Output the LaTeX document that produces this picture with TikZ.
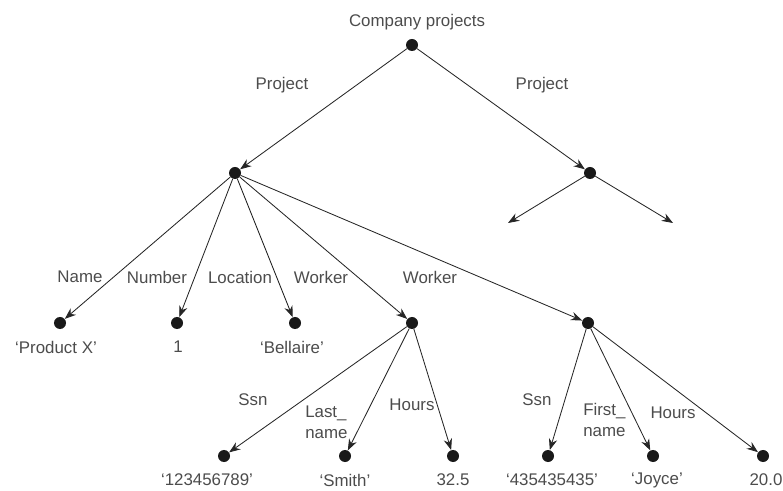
\documentclass[tikz,border=0pt]{standalone}
\usepackage{fontspec}
\setmainfont{Liberation Sans}
\usepackage{xcolor}
\usetikzlibrary{arrows.meta}

\begin{document}
\begin{tikzpicture}[x=0.025cm, y=-0.025cm,
    dot/.style={circle, fill=black!90, inner sep=0pt, minimum size=0.3cm},
    txt/.style={text=black!70, inner sep=0pt, font=\fontsize{12}{15}\selectfont},
    edge/.style={draw=black!85, line width=0.6pt, -{Stealth[length=8pt, width=6pt]}}]
    \useasboundingbox (0,0) rectangle (783,491);

    % Raiz
    \node[dot] (root) at (412,45) {};
    \node[txt] (rootlbl) at (417,22) {Company projects};

    % Proyectos
    \node[dot] (proj1) at (235,173) {};
    \node[dot] (proj2) at (590,173) {};
    \node[txt] (pl1) at (282,85) {Project};
    \node[txt] (pl2) at (542,85) {Project};
    \draw[edge] (root) -- (proj1);
    \draw[edge] (root) -- (proj2);

    % Ramas sin hijos
    \coordinate (open1) at (508,223);
    \coordinate (open2) at (673,223);
    \draw[edge] (proj2) -- (open1);
    \draw[edge] (proj2) -- (open2);

    % Atributos del proyecto
    \node[dot] (name) at (60,323) {};
    \node[dot] (number) at (177,323) {};
    \node[dot] (loc) at (295,323) {};
    \node[dot] (work1) at (412,323) {};
    \node[dot] (work2) at (588,323) {};
    \foreach \n in {name, number, loc, work1, work2}
        \draw[edge] (proj1) -- (\n);

    \node[txt] (namelbl) at (80,277) {Name};
    \node[txt] (numberlbl) at (157,277) {Number};
    \node[txt] (loclbl) at (240,277) {Location};
    \node[txt] (w1lbl) at (321,277) {Worker};
    \node[txt] (w2lbl) at (430,277) {Worker};

    \node[txt] (nameval) at (56,347) {`Product X'};
    \node[txt] (numberval) at (178,347) {1};
    \node[txt] (locval) at (292,347) {`Bellaire'};

    % Primer trabajador
    \node[dot] (ssn1) at (224,456) {};
    \node[dot] (last) at (345,456) {};
    \node[dot] (hrs1) at (453,456) {};
    \foreach \n in {ssn1, last, hrs1}
        \draw[edge] (work1) -- (\n);

    \node[txt] (ssn1lbl) at (253,400) {Ssn};
    \node[txt, align=left, anchor=west] (lastlbl) at (305,422) {Last\_\\name};
    \node[txt] (hrs1lbl) at (412,405) {Hours};

    \node[txt] (ssn1val) at (207,480) {`123456789'};
    \node[txt] (lastval) at (345,480) {`Smith'};
    \node[txt] (hrs1val) at (453,480) {32.5};

    % Segundo trabajador
    \node[dot] (ssn2) at (548,456) {};
    \node[dot] (first) at (653,456) {};
    \node[dot] (hrs2) at (763,456) {};
    \foreach \n in {ssn2, first, hrs2}
        \draw[edge] (work2) -- (\n);

    \node[txt] (ssn2lbl) at (537,400) {Ssn};
    \node[txt, align=left, anchor=west] (firstlbl) at (583,420) {First\_\\name};
    \node[txt] (hrs2lbl) at (673,413) {Hours};

    \node[txt] (ssn2val) at (552,480) {`435435435'};
    \node[txt] (firstval) at (657,480) {`Joyce'};
    \node[txt] (hrs2val) at (766,480) {20.0};
\end{tikzpicture}
\end{document}
